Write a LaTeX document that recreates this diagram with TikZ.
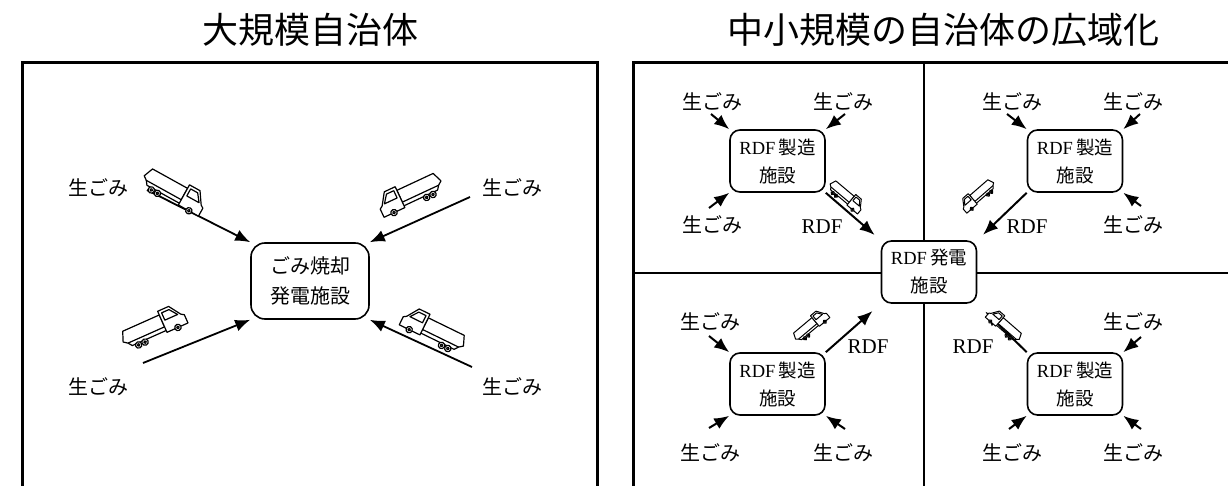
\documentclass[tikz,border=0pt]{standalone}
\usepackage{fontspec}
\usetikzlibrary{arrows.meta}
\newfontfamily\jp{Noto Sans CJK JP}
\newfontfamily\rdf{Liberation Serif}
\begin{document}
\begin{tikzpicture}[x=1pt,y=1pt]
\tikzset{
  frame/.style={line width=3pt, line join=miter},
  divider/.style={line width=2pt},
  bigbox/.style={draw, fill=white, line width=1.6pt, rounded corners=14pt,
    minimum width=118pt, minimum height=76pt, align=center, inner sep=0pt,
    font=\jp\fontsize{20}{30}\selectfont},
  rdfbox/.style={draw, fill=white, line width=1.6pt, rounded corners=10pt,
    minimum width=95pt, minimum height=62pt, align=center, inner sep=0pt,
    font=\jp\fontsize{18.5}{28}\selectfont},
  lab/.style={font=\jp\fontsize{20}{24}\selectfont, inner sep=0pt},
  rdflab/.style={font=\rdf\fontsize{21}{24}\selectfont, inner sep=0pt},
  headline/.style={font=\jp\fontsize{36}{40}\selectfont, inner sep=0pt},
  feed/.style={-{Latex[length=15pt,width=12pt]}, line width=1.8pt},
  smallfeed/.style={-{Latex[length=15pt,width=12pt]}, line width=2pt},
  truckline/.style={line width=1.2pt, line join=round},
  dumptruck/.pic={
    \begin{scope}[truckline]
      % cargo bed
      \draw[fill=white] (-34,2) -- (-30,12) -- (10,12) -- (10,-1) -- (-30,-1) -- cycle;
      % chassis under the bed
      \draw (-30,-1) -- (-27,-5) -- (12,-5);
      % cab and window
      \draw[fill=white] (10,-7) -- (10,16) -- (22,16) -- (30,4) -- (33,2) -- (33,-7) -- cycle;
      \draw (13,5) -- (13,13) -- (21,13) -- (27,5) -- cycle;
      % wheels
      \foreach \wx in {-21,-14,22} {
        \draw[fill=white] (\wx,-7) circle (3.2);
        \draw (\wx,-7) circle (1.3);
      }
    \end{scope}
  }
}
\useasboundingbox (0,0) rectangle (1228,485);

% ---------- headings ----------
\node[headline] (tleft) at (310,455) {大規模自治体};
\node[headline] (tright) at (943,455) {中小規模の自治体の広域化};

% ---------- panel frames ----------
\draw[frame] (22,-10) -- (22,422) -- (597,422) -- (597,-10);
\draw[frame] (633,-10) -- (633,422) -- (1235,422);
\draw[divider] (924,422) -- (924,-10);
\draw[divider] (633,212) -- (1235,212);

% ---------- large municipality ----------
\node[bigbox] (plant) at (310,204) {ごみ焼却\\発電施設};

\node[lab] (gA) at (98,297) {生ごみ};
\node[lab] (gB) at (512,297) {生ごみ};
\node[lab] (gC) at (98,98) {生ごみ};
\node[lab] (gD) at (512,98) {生ごみ};

\coordinate (sA) at (147,295);
\coordinate (sB) at (470,288);
\coordinate (sC) at (143,122);
\coordinate (sD) at (472,118);

\draw[feed] (sA) -- (plant.north west);
\draw[feed] (sB) -- (plant.north east);
\draw[feed] (sC) -- (plant.south west);
\draw[feed] (sD) -- (plant.south east);

\pic[rotate=-29] at (173,291) {dumptruck};
\pic[rotate=25, xscale=-1] at (411,288) {dumptruck};
\pic[rotate=24] at (155,155) {dumptruck};
\pic[rotate=-26, xscale=-1] at (432,152) {dumptruck};

% ---------- regional cooperation ----------
\node[rdfbox] (center) at (929,213) {{\rdf RDF}\,発電\\施設};

\node[rdfbox] (q1) at (777.5,324) {{\rdf RDF}\,製造\\施設};
\node[rdfbox] (q2) at (1075,324) {{\rdf RDF}\,製造\\施設};
\node[rdfbox] (q3) at (777.5,101) {{\rdf RDF}\,製造\\施設};
\node[rdfbox] (q4) at (1075,101) {{\rdf RDF}\,製造\\施設};

% upper left
\node[lab] (q1a) at (712,383) {生ごみ};
\node[lab] (q1b) at (843,383) {生ごみ};
\node[lab] (q1c) at (712,260) {生ごみ};
\node[rdflab] (r1) at (822,258) {RDF};
\coordinate (p1a) at (711,371);
\coordinate (p1b) at (845,371);
\coordinate (p1c) at (709,277);
\draw[smallfeed] (p1a) -- (q1.north west);
\draw[smallfeed] (p1b) -- (q1.north east);
\draw[smallfeed] (p1c) -- (q1.south west);

% upper right
\node[lab] (q2a) at (1012,383) {生ごみ};
\node[lab] (q2b) at (1133,383) {生ごみ};
\node[lab] (q2c) at (1133,260) {生ごみ};
\node[rdflab] (r2) at (1027,258) {RDF};
\coordinate (p2a) at (1007,371);
\coordinate (p2b) at (1140,371);
\coordinate (p2c) at (1141,279);
\draw[smallfeed] (p2a) -- (q2.north west);
\draw[smallfeed] (p2b) -- (q2.north east);
\draw[smallfeed] (p2c) -- (q2.south east);

% lower left
\node[lab] (q3a) at (710,163) {生ごみ};
\node[lab] (q3b) at (710,32) {生ごみ};
\node[lab] (q3c) at (843,32) {生ごみ};
\node[rdflab] (r3) at (868,138) {RDF};
\coordinate (p3a) at (709,149);
\coordinate (p3b) at (709,57);
\coordinate (p3c) at (845,56);
\draw[smallfeed] (p3a) -- (q3.north west);
\draw[smallfeed] (p3b) -- (q3.south west);
\draw[smallfeed] (p3c) -- (q3.south east);

% lower right
\node[lab] (q4a) at (1133,163) {生ごみ};
\node[lab] (q4b) at (1012,32) {生ごみ};
\node[lab] (q4c) at (1133,32) {生ごみ};
\node[rdflab] (r4) at (973,138) {RDF};
\coordinate (p4a) at (1141,148);
\coordinate (p4b) at (1009,56);
\coordinate (p4c) at (1141,56);
\draw[smallfeed] (p4a) -- (q4.north east);
\draw[smallfeed] (p4b) -- (q4.south west);
\draw[smallfeed] (p4c) -- (q4.south east);

% RDF transport to the power plant
\draw[smallfeed, shorten >=8pt] (q1.south east) -- (center.north west);
\draw[smallfeed, shorten >=8pt] (q2.south west) -- (center.north east);
\draw[smallfeed, shorten >=11pt] (q3.north east) -- (center.south west);
\draw[smallfeed, shorten >=11pt] (q4.north west) -- (center.south east);

\begin{scope}[truckline/.append style={line width=1pt}]
\pic[rotate=-40, scale=0.6] at (845,287) {dumptruck};
\pic[rotate=41, xscale=-1, scale=0.6] at (979,288) {dumptruck};
\pic[rotate=40, scale=0.6] at (812,158) {dumptruck};
\pic[rotate=-41, xscale=-1, scale=0.6] at (1003,158) {dumptruck};
\end{scope}
\end{tikzpicture}
\end{document}
